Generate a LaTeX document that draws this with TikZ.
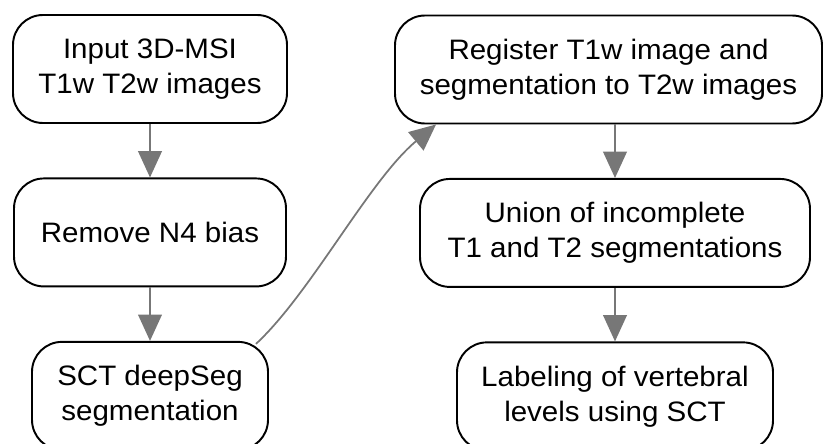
\documentclass[tikz,border=0pt]{standalone}
\usepackage{fontspec}
\setmainfont{Liberation Sans}[FakeStretch=1.05]
\usepackage{tikz}
\usetikzlibrary{arrows.meta,positioning}
\definecolor{arrowgray}{HTML}{777777}

\begin{document}
\begin{tikzpicture}[
  node distance=1.07cm,
  stage/.style={draw=black,line width=1.1pt,rounded corners=0.6cm,fill=white,
    minimum height=2.16cm,align=center,font=\fontsize{16}{19.8}\selectfont},
  arrow/.style={-{Triangle[length=15pt,width=13.5pt]},line width=1pt,color=arrowgray}
]
\useasboundingbox (0,0) rectangle (16.46,8.86);
% left column
\node[stage,minimum width=5.48cm] (input) at (3.0,7.48) {Input 3D-MSI\\T1w T2w images};
\node[stage,minimum width=5.44cm,below=of input] (bias) {Remove N4 bias};
\node[stage,minimum width=4.72cm,below=of bias] (deepseg) {SCT deepSeg\\segmentation};
% right column
\node[stage,minimum width=8.54cm] (register) at (12.17,7.47) {Register T1w image and\\segmentation to T2w images};
\node[stage,minimum width=7.8cm,below=of register,xshift=0.13cm] (union) {Union of incomplete\\T1 and T2 segmentations};
\node[stage,minimum width=6.32cm,below=of union] (labeling) {Labeling of vertebral\\levels using SCT};
\draw[arrow] (input) -- (bias);
\draw[arrow] (bias) -- (deepseg);
\draw[arrow] ([xshift=-0.26cm,yshift=-0.06cm]deepseg.north east)
  .. controls +(1.1,1.02) and +(-1.34,-1.12) .. ([xshift=0.84cm]register.south west);
\draw[arrow] (register.south -| union.north) -- (union);
\draw[arrow] (union) -- (labeling);
\end{tikzpicture}
\end{document}
